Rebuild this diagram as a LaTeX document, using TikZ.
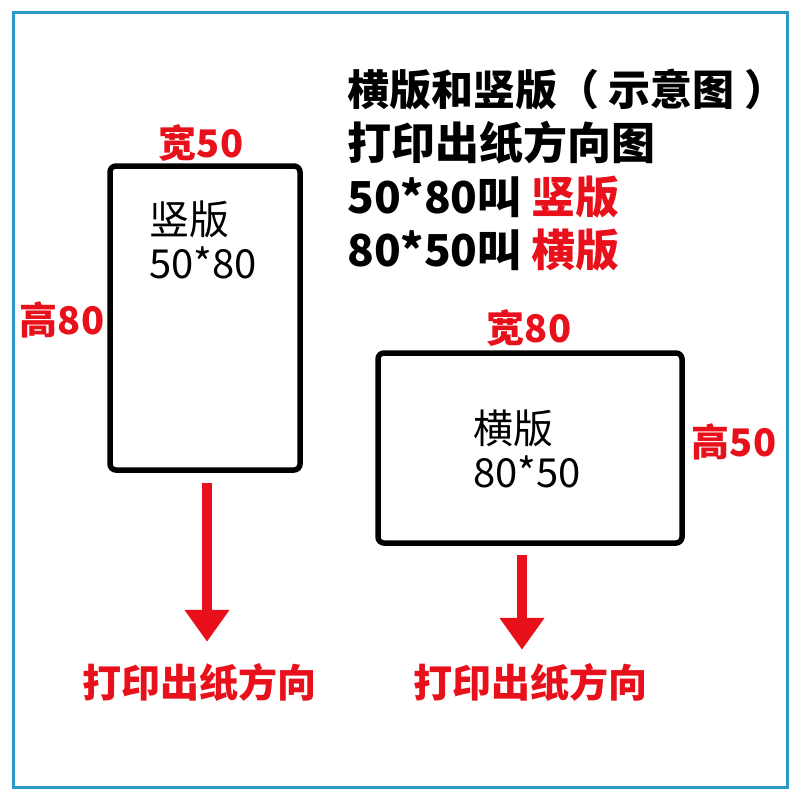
\documentclass[tikz,border=0pt]{standalone}
\usepackage{fontspec}
\setmainfont{Noto Sans CJK SC}
\newfontfamily\cjk{Noto Sans CJK SC}
\usetikzlibrary{arrows.meta,positioning}
\definecolor{markred}{HTML}{E8101A}
\definecolor{framebl}{HTML}{2B9ACB}
\tikzset{
  paper/.style={draw=black, line width=5.5pt, rounded corners=6pt, inner sep=0pt},
  dimlbl/.style={text=markred, font=\cjk\bfseries\fontsize{38}{40}\selectfont, inner sep=0pt},
  inlbl/.style={font=\cjk\fontsize{40}{44}\selectfont, align=left, inner sep=0pt, anchor=west},
  title/.style={font=\cjk\bfseries\fontsize{44}{48}\selectfont, inner sep=0pt, anchor=west},
  outlbl/.style={text=markred, font=\cjk\bfseries\fontsize{39}{42}\selectfont, inner sep=0pt},
  feed/.style={draw=markred, line width=10pt, -{Triangle[width=43pt,length=32pt]}}
}
\begin{document}
\begin{tikzpicture}[x=1pt, y=-1pt]
\useasboundingbox (0,0) rectangle (800,800);
% 外框
\draw[framebl, line width=3pt] (13,13) rectangle (787,787);
% 标题
\node[title, font=\cjk\bfseries\fontsize{42}{48}\selectfont] (t1) at (347,90) {横版和竖版（ 示意图 ）};
\node[title] (t2) at (347,143) {打印出纸方向图};
\node[title] (t3) at (347,197) {50*80叫 \textcolor{markred}{竖版}};
\node[title] (t4) at (347,250) {80*50叫 \textcolor{markred}{横版}};
% 竖版
\node[paper, minimum width=190pt, minimum height=304pt] (shu) at (205,318) {};
\node[inlbl] (shutxt) at (149,240) {竖版\\50*80};
\node[dimlbl] (shuw) at (201,143) {宽50};
\node[dimlbl] (shuh) at (62,320) {高80};
% 横版
\node[paper, minimum width=304pt, minimum height=190pt] (heng) at (530,448) {};
\node[inlbl] (hengtxt) at (473,449) {横版\\80*50};
\node[dimlbl] (hengw) at (529,328) {宽80};
\node[dimlbl] (hengh) at (734,442) {高50};
% 出纸方向
\node[outlbl] (outl) at (199,683) {打印出纸方向};
\node[outlbl] (outr) at (530,683) {打印出纸方向};
\draw[feed] ([xshift=2pt, yshift=-10pt]shu.south) -- ([xshift=8pt, yshift=22pt]outl.north);
\draw[feed] ([xshift=-8pt, yshift=-9pt]heng.south) -- ([xshift=-8pt, yshift=14pt]outr.north);
\end{tikzpicture}
\end{document}
